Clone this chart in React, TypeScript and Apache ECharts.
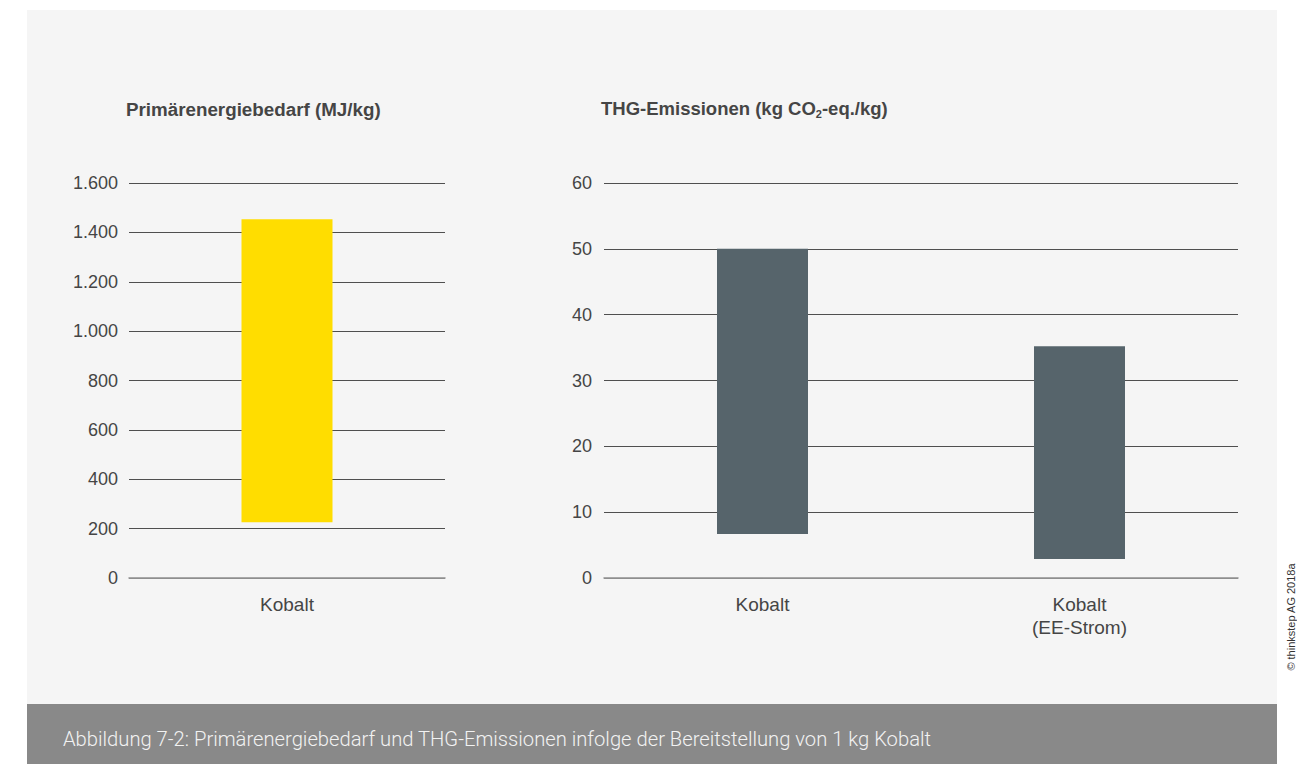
import React, { useEffect, useRef } from "react";
import * as echarts from "echarts";

// ---- data ----
const energyCategories = ["Kobalt"];
const energyLow = [226];
const energyHigh = [1453];
const energyAxis = { min: 0, max: 1600, interval: 200 };

const ghgCategories = ["Kobalt", "Kobalt\n(EE-Strom)"];
const ghgLow = [6.7, 2.9];
const ghgHigh = [50, 35.2];
const ghgAxis = { min: 0, max: 60, interval: 10 };

const titleEnergy = "Primärenergiebedarf (MJ/kg)";
const titleGhgParts = ["THG-Emissionen (kg CO", "2", "-eq./kg)"];
const caption =
  "Abbildung 7-2: Primärenergiebedarf und THG-Emissionen infolge der Bereitstellung von 1 kg Kobalt";
const copyright = "© thinkstep AG 2018a";

const FONT = "'Liberation Sans', Arial, sans-serif";
const LIGHT = "Roboto, sans-serif";
const TEXT = "#454545";

const deFormat = (v: number) =>
  String(v).replace(/\B(?=(\d{3})+(?!\d))/g, ".");

function splitColors(axis: { min: number; max: number; interval: number }) {
  const n = Math.round((axis.max - axis.min) / axis.interval) + 1;
  const arr: string[] = [];
  for (let i = 0; i < n; i++) arr.push(i === 0 ? "#8f8f8f" : "#4f4f4f");
  return arr;
}

export default function App() {
  const ref = useRef<HTMLDivElement>(null);

  useEffect(() => {
    if (!ref.current) return;
    const chart = echarts.init(ref.current, null, { renderer: "svg" });

    const xAxisCommon = {
      type: "category" as const,
      axisTick: { show: false },
      axisLine: { lineStyle: { color: "#8f8f8f", width: 1.5 } },
      axisLabel: {
        color: TEXT,
        fontSize: 19,
        fontFamily: FONT,
        margin: 15,
        lineHeight: 23,
      },
    };
    const yAxisCommon = {
      type: "value" as const,
      axisLine: { show: false },
      axisTick: { show: false },
    };

    chart.setOption({
      animation: false,
      backgroundColor: "transparent",
      grid: [
        { left: 129, top: 183, width: 316, height: 395 },
        { left: 604, top: 183, width: 634, height: 395 },
      ],
      xAxis: [
        { ...xAxisCommon, gridIndex: 0, data: energyCategories },
        { ...xAxisCommon, gridIndex: 1, data: ghgCategories },
      ],
      yAxis: [
        {
          ...yAxisCommon,
          gridIndex: 0,
          ...energyAxis,
          axisLabel: {
            color: TEXT,
            fontSize: 18,
            fontFamily: FONT,
            margin: 11,
            formatter: (v: number) => deFormat(v),
          },
          splitLine: {
            lineStyle: { color: splitColors(energyAxis), width: 1 },
          },
        },
        {
          ...yAxisCommon,
          gridIndex: 1,
          ...ghgAxis,
          axisLabel: {
            color: TEXT,
            fontSize: 18,
            fontFamily: FONT,
            margin: 12,
          },
          splitLine: {
            lineStyle: { color: splitColors(ghgAxis), width: 1 },
          },
        },
      ],
      series: [
        {
          type: "bar",
          xAxisIndex: 0,
          yAxisIndex: 0,
          stack: "e",
          barWidth: 91,
          itemStyle: { color: "transparent" },
          data: energyLow,
          silent: true,
        },
        {
          type: "bar",
          xAxisIndex: 0,
          yAxisIndex: 0,
          stack: "e",
          barWidth: 91,
          itemStyle: { color: "#ffdd00" },
          data: energyHigh.map((h, i) => +(h - energyLow[i]).toFixed(2)),
        },
        {
          type: "bar",
          xAxisIndex: 1,
          yAxisIndex: 1,
          stack: "g",
          barWidth: 91,
          itemStyle: { color: "transparent" },
          data: ghgLow,
          silent: true,
        },
        {
          type: "bar",
          xAxisIndex: 1,
          yAxisIndex: 1,
          stack: "g",
          barWidth: 91,
          itemStyle: { color: "#56646b" },
          data: ghgHigh.map((h, i) => +(h - ghgLow[i]).toFixed(2)),
        },
      ],
      graphic: [
        {
          type: "text",
          left: 126,
          top: 100,
          style: {
            text: titleEnergy,
            fill: TEXT,
            font: `bold 18.8px ${FONT}`,
          },
        },
        {
          type: "text",
          left: 601,
          top: 99,
          style: {
            text: `{b|${titleGhgParts[0]}}{s|${titleGhgParts[1]}}{b|${titleGhgParts[2]}}`,
            fill: TEXT,
            rich: {
              b: {
                fill: TEXT,
                fontSize: 18.5,
                fontWeight: "bold",
                fontFamily: FONT,
                lineHeight: 22,
              },
              s: {
                fill: TEXT,
                fontSize: 11,
                fontWeight: "bold",
                fontFamily: FONT,
                verticalAlign: "bottom",
                lineHeight: 22,
                padding: [7, 0, 0, 0],
              },
            },
          },
        },
        {
          type: "text",
          left: 63,
          top: 729,
          style: {
            text: caption,
            fill: "#f2f2f2",
            font: `300 20.2px ${LIGHT}`,
          },
        },
        {
          type: "text",
          x: 1291,
          y: 617,
          rotation: Math.PI / 2,
          style: {
            text: copyright,
            fill: "#333",
            font: `11px ${FONT}`,
            align: "center",
            verticalAlign: "middle",
          },
        },
      ],
    });

    return () => chart.dispose();
  }, []);

  return (
    <div
      style={{
        position: "fixed",
        left: 0,
        top: 0,
        width: 1297,
        height: 764,
        background: "#ffffff",
      }}
    >
      <div
        style={{
          position: "absolute",
          left: 27,
          top: 10,
          width: 1250,
          height: 694,
          background: "#f5f5f5",
        }}
      />
      <div
        style={{
          position: "absolute",
          left: 27,
          top: 704,
          width: 1250,
          height: 60,
          background: "#898989",
        }}
      />
      <div
        ref={ref}
        style={{ position: "absolute", left: 0, top: 0, width: 1297, height: 764 }}
      />
    </div>
  );
}
